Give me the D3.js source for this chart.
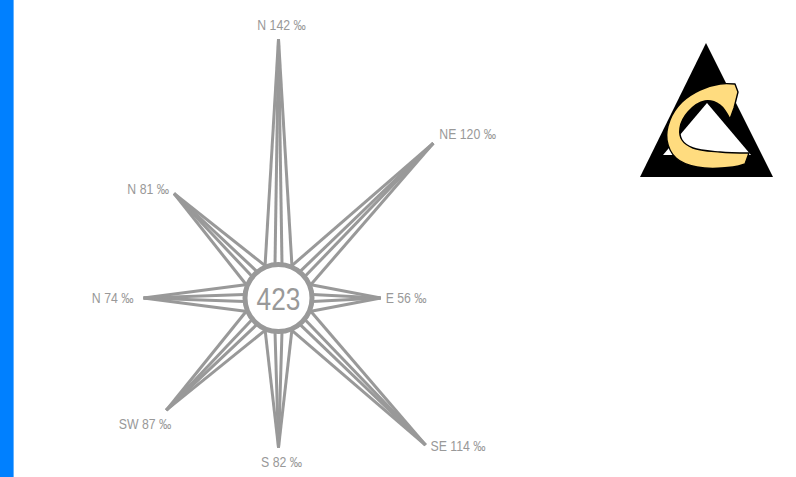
<!DOCTYPE html>
<html>
<head>
<meta charset="utf-8">
<script src="https://cdn.jsdelivr.net/npm/d3@7"></script>
<style>
  html, body { margin: 0; padding: 0; background: #fff; }
  svg { display: block; }
  .lbl { font-family: "Liberation Sans", Arial, sans-serif; fill: #999; }
</style>
</head>
<body>
<script>
// Wind directions, frequencies (per mille) and compass angles (degrees, clockwise from north)
const directions = ["N", "NE", "E", "SE", "S", "SW", "N", "N"];
const values = [142, 120, 56, 114, 82, 87, 74, 81];
const angles = [0, 45, 90, 135, 180, 225, 270, 315];
const unit = "‰";
const centerValue = 423;

const W = 796, H = 477;
const svg = d3.select("body").append("svg").attr("width", W).attr("height", H);

// left accent bar
svg.append("rect").attr("x", 0).attr("y", 0).attr("width", 13.6).attr("height", H).attr("fill", "#0080ff");

const cx = 278.5, cy = 298;
const grey = "#999";
const ringR = 33.5;
const narrow = 0.82; // horizontal squeeze for a condensed look
const len = d3.scaleLinear().domain([0, 142]).range([0, 259]);

const rose = svg.append("g").attr("transform", `translate(${cx},${cy})`);
const line = d3.line();
const baseOffsets = [-13.5, -3.5, 3.5, 13.5];
const baseR = 34;

const data = values.map((v, i) => ({ dir: directions[i], value: v, angle: angles[i] * Math.PI / 180 }));

// each arm: four strokes converging from the ring to the tip
const arms = rose.selectAll("g.arm").data(data).join("g").attr("class", "arm");
arms.each(function (d) {
  const s = Math.sin(d.angle), c = Math.cos(d.angle);
  const L = len(d.value);
  const tip = [s * L, -c * L];
  const grp = d3.select(this);
  baseOffsets.forEach(o => {
    const along = Math.sqrt(baseR * baseR - o * o);
    const base = [s * along + c * o, -c * along + s * o];
    grp.append("path").attr("d", line([base, tip]))
      .attr("fill", "none").attr("stroke", grey).attr("stroke-width", 3);
  });
});

// centre ring and total
rose.append("circle").attr("r", ringR).attr("fill", "#fff").attr("stroke", grey).attr("stroke-width", 5);
rose.append("text").attr("class", "lbl").attr("text-anchor", "middle").attr("dy", "0.36em")
  .attr("transform", `scale(${narrow},1)`)
  .style("font-size", "32px").text(centerValue);

// labels next to each tip
function placement(d) {
  const s = Math.sin(d.angle), c = Math.cos(d.angle);
  const L = len(d.value);
  const x = s * L, y = -c * L;
  if (Math.abs(s) < 0.1) {
    return c > 0 ? { x: x + 3, y: y - 9, anchor: "middle" } : { x: x + 3, y: y + 19, anchor: "middle" };
  }
  if (s > 0) {
    if (c > 0.5) return { x: x + 6, y: y - 4, anchor: "start" };
    if (c < -0.5) return { x: x + 5, y: y + 6, anchor: "start" };
    return { x: x + 5, y: y + 5, anchor: "start" };
  }
  if (c > 0.5) return { x: x - 5, y: y, anchor: "end" };
  if (c < -0.5) return { x: x + 5, y: y + 19, anchor: "end" };
  return { x: x - 10, y: y + 5, anchor: "end" };
}

rose.selectAll("text.dirlbl").data(data).join("text")
  .attr("class", "lbl dirlbl")
  .style("font-size", "15px")
  .each(function (d) {
    const p = placement(d);
    d3.select(this).attr("transform", `translate(${p.x},${p.y}) scale(${narrow},1)`).attr("text-anchor", p.anchor);
  })
  .text(d => `${d.dir} ${d.value} ${unit}`);

// logo: black triangle with a yellow "C"
const logo = svg.append("g");
logo.append("path").attr("d", "M706,43L773,177L640,177Z").attr("fill", "#000");
logo.append("path").attr("d", "M707,103L751,155L663,155Z").attr("fill", "#fff");
const curve = d3.line().curve(d3.curveCatmullRom);
const outer = [[735, 84], [720, 84], [700, 90], [682, 102], [670, 120], [667, 140], [676, 158], [697, 167], [733, 167], [745, 164]];
const inner = [[749, 153], [720, 152], [693, 148], [682, 140], [680, 128], [688, 112], [705, 101], [720, 105], [730, 119]];
const cPath = curve(outer) + "L" + curve(inner).slice(1) + "L734,108L738,92Z";
logo.append("path").attr("d", cPath).attr("fill", "#ffdc7f").attr("stroke", "#000").attr("stroke-width", 1.4)
  .attr("stroke-linejoin", "round");
</script>
</body>
</html>
